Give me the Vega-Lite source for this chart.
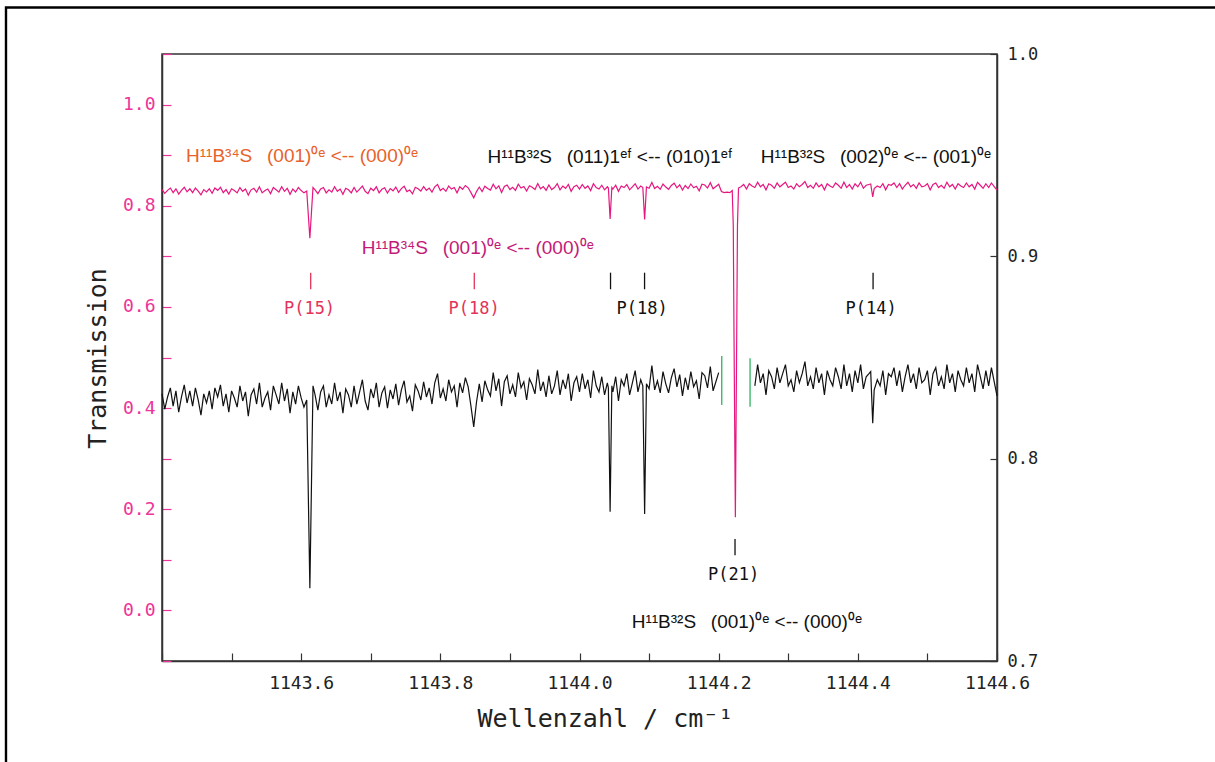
{
"$schema": "https://vega.github.io/schema/vega-lite/v6.json",
"width": 835, "height": 607,
"autosize": {"type": "none"},
"padding": {"left": 162, "top": 54, "right": 218, "bottom": 101},
"background": "white",
"config": {"view": {"stroke": "#333333", "strokeWidth": 1.5}, "axis": {"grid": false}},
"datasets": {
"spec": [
{"w":1143.400,"t":0.832},{"w":1143.404,"t":0.8245},{"w":1143.408,"t":0.8305},{"w":1143.412,"t":0.835},{"w":1143.416,"t":0.826},{"w":1143.420,"t":0.8335},{"w":1143.424,"t":0.823},{"w":1143.428,"t":0.8305},{"w":1143.432,"t":0.8365},{"w":1143.436,"t":0.8275},
{"w":1143.440,"t":0.8335},{"w":1143.444,"t":0.826},{"w":1143.448,"t":0.835},{"w":1143.452,"t":0.829},{"w":1143.456,"t":0.8215},{"w":1143.460,"t":0.832},{"w":1143.464,"t":0.8275},{"w":1143.468,"t":0.8335},{"w":1143.472,"t":0.8245},{"w":1143.476,"t":0.835},
{"w":1143.480,"t":0.8305},{"w":1143.484,"t":0.8365},{"w":1143.488,"t":0.826},{"w":1143.492,"t":0.832},{"w":1143.496,"t":0.823},{"w":1143.500,"t":0.8335},{"w":1143.504,"t":0.830},{"w":1143.508,"t":0.8255},{"w":1143.512,"t":0.836},{"w":1143.516,"t":0.8285},
{"w":1143.520,"t":0.833},{"w":1143.524,"t":0.821},{"w":1143.528,"t":0.8315},{"w":1143.532,"t":0.8345},{"w":1143.536,"t":0.827},{"w":1143.540,"t":0.8375},{"w":1143.544,"t":0.8255},{"w":1143.548,"t":0.830},{"w":1143.552,"t":0.833},{"w":1143.556,"t":0.824},
{"w":1143.560,"t":0.836},{"w":1143.564,"t":0.8315},{"w":1143.568,"t":0.827},{"w":1143.572,"t":0.8375},{"w":1143.576,"t":0.8285},{"w":1143.580,"t":0.8345},{"w":1143.584,"t":0.8225},{"w":1143.588,"t":0.833},{"w":1143.592,"t":0.827},{"w":1143.596,"t":0.836},
{"w":1143.600,"t":0.830},{"w":1143.604,"t":0.8255},{"w":1143.608,"t":0.829},{"w":1143.6125,"t":0.736},{"w":1143.617,"t":0.836},{"w":1143.620,"t":0.8315},{"w":1143.624,"t":0.824},{"w":1143.628,"t":0.833},{"w":1143.632,"t":0.836},{"w":1143.636,"t":0.8255},
{"w":1143.640,"t":0.8315},{"w":1143.644,"t":0.827},{"w":1143.648,"t":0.8375},{"w":1143.652,"t":0.8285},{"w":1143.656,"t":0.833},{"w":1143.660,"t":0.8225},{"w":1143.664,"t":0.8345},{"w":1143.668,"t":0.8315},{"w":1143.672,"t":0.8255},{"w":1143.676,"t":0.836},
{"w":1143.680,"t":0.827},{"w":1143.684,"t":0.833},{"w":1143.688,"t":0.839},{"w":1143.692,"t":0.8285},{"w":1143.696,"t":0.824},{"w":1143.700,"t":0.8345},{"w":1143.704,"t":0.830},{"w":1143.708,"t":0.8375},{"w":1143.712,"t":0.8255},{"w":1143.716,"t":0.8325},
{"w":1143.720,"t":0.8355},{"w":1143.724,"t":0.825},{"w":1143.728,"t":0.834},{"w":1143.732,"t":0.8295},{"w":1143.736,"t":0.837},{"w":1143.740,"t":0.8265},{"w":1143.744,"t":0.834},{"w":1143.748,"t":0.8385},{"w":1143.752,"t":0.828},{"w":1143.756,"t":0.831},
{"w":1143.760,"t":0.8235},{"w":1143.764,"t":0.8365},{"w":1143.768,"t":0.8335},{"w":1143.772,"t":0.829},{"w":1143.776,"t":0.838},{"w":1143.780,"t":0.8305},{"w":1143.784,"t":0.835},{"w":1143.788,"t":0.827},{"w":1143.792,"t":0.8375},{"w":1143.796,"t":0.842},
{"w":1143.800,"t":0.830},{"w":1143.804,"t":0.8345},{"w":1143.808,"t":0.8285},{"w":1143.812,"t":0.839},{"w":1143.816,"t":0.833},{"w":1143.820,"t":0.836},{"w":1143.824,"t":0.8255},{"w":1143.828,"t":0.8375},{"w":1143.832,"t":0.8325},{"w":1143.836,"t":0.840},
{"w":1143.840,"t":0.8355},{"w":1143.844,"t":0.826},{"w":1143.848,"t":0.8157},{"w":1143.852,"t":0.828},{"w":1143.856,"t":0.837},{"w":1143.860,"t":0.828},{"w":1143.864,"t":0.8385},{"w":1143.868,"t":0.834},{"w":1143.872,"t":0.831},{"w":1143.876,"t":0.8425},
{"w":1143.880,"t":0.8335},{"w":1143.884,"t":0.8395},{"w":1143.888,"t":0.826},{"w":1143.892,"t":0.838},{"w":1143.896,"t":0.841},{"w":1143.900,"t":0.832},{"w":1143.904,"t":0.8365},{"w":1143.908,"t":0.8305},{"w":1143.912,"t":0.8425},{"w":1143.916,"t":0.835},
{"w":1143.920,"t":0.838},{"w":1143.924,"t":0.829},{"w":1143.928,"t":0.8395},{"w":1143.932,"t":0.8365},{"w":1143.936,"t":0.832},{"w":1143.940,"t":0.844},{"w":1143.944,"t":0.8335},{"w":1143.948,"t":0.838},{"w":1143.952,"t":0.8305},{"w":1143.956,"t":0.841},
{"w":1143.960,"t":0.832},{"w":1143.964,"t":0.836},{"w":1143.968,"t":0.8435},{"w":1143.972,"t":0.8315},{"w":1143.976,"t":0.839},{"w":1143.980,"t":0.8345},{"w":1143.984,"t":0.842},{"w":1143.988,"t":0.8285},{"w":1143.992,"t":0.8375},{"w":1143.996,"t":0.8405},
{"w":1144.000,"t":0.833},{"w":1144.004,"t":0.842},{"w":1144.008,"t":0.8345},{"w":1144.012,"t":0.839},{"w":1144.016,"t":0.830},{"w":1144.020,"t":0.8435},{"w":1144.024,"t":0.836},{"w":1144.028,"t":0.833},{"w":1144.032,"t":0.8405},{"w":1144.036,"t":0.8315},
{"w":1144.040,"t":0.8375},{"w":1144.0415,"t":0.835},{"w":1144.044,"t":0.7738},{"w":1144.0465,"t":0.836},{"w":1144.048,"t":0.833},{"w":1144.052,"t":0.8405},{"w":1144.056,"t":0.8285},{"w":1144.060,"t":0.839},{"w":1144.064,"t":0.836},{"w":1144.068,"t":0.842},
{"w":1144.072,"t":0.8315},{"w":1144.076,"t":0.8375},{"w":1144.080,"t":0.8435},{"w":1144.084,"t":0.833},{"w":1144.088,"t":0.839},{"w":1144.091,"t":0.836},{"w":1144.0936,"t":0.7727},{"w":1144.0962,"t":0.837},{"w":1144.100,"t":0.8345},{"w":1144.104,"t":0.846},
{"w":1144.108,"t":0.834},{"w":1144.112,"t":0.8385},{"w":1144.116,"t":0.8325},{"w":1144.120,"t":0.843},{"w":1144.124,"t":0.837},{"w":1144.128,"t":0.8325},{"w":1144.132,"t":0.840},{"w":1144.136,"t":0.8445},{"w":1144.140,"t":0.8355},{"w":1144.144,"t":0.8415},
{"w":1144.148,"t":0.831},{"w":1144.152,"t":0.840},{"w":1144.156,"t":0.834},{"w":1144.160,"t":0.843},{"w":1144.164,"t":0.8355},{"w":1144.168,"t":0.8385},{"w":1144.172,"t":0.8295},{"w":1144.176,"t":0.8425},{"w":1144.180,"t":0.841},{"w":1144.184,"t":0.835},
{"w":1144.188,"t":0.8455},{"w":1144.192,"t":0.8335},{"w":1144.196,"t":0.838},{"w":1144.200,"t":0.8425},{"w":1144.204,"t":0.828},{"w":1144.208,"t":0.826},{"w":1144.212,"t":0.827},{"w":1144.216,"t":0.826},{"w":1144.2195,"t":0.830},{"w":1144.221,"t":0.76},
{"w":1144.2221,"t":0.535},{"w":1144.224,"t":0.184},{"w":1144.2259,"t":0.535},{"w":1144.227,"t":0.76},{"w":1144.2285,"t":0.835},{"w":1144.232,"t":0.8375},{"w":1144.236,"t":0.842},{"w":1144.240,"t":0.833},{"w":1144.244,"t":0.8435},{"w":1144.248,"t":0.839},
{"w":1144.252,"t":0.836},{"w":1144.256,"t":0.8465},{"w":1144.260,"t":0.8375},{"w":1144.264,"t":0.842},{"w":1144.268,"t":0.8315},{"w":1144.272,"t":0.8435},{"w":1144.276,"t":0.8405},{"w":1144.280,"t":0.8345},{"w":1144.284,"t":0.845},{"w":1144.288,"t":0.8375},
{"w":1144.292,"t":0.842},{"w":1144.296,"t":0.8465},{"w":1144.300,"t":0.836},{"w":1144.304,"t":0.839},{"w":1144.308,"t":0.833},{"w":1144.312,"t":0.8435},{"w":1144.316,"t":0.8375},{"w":1144.320,"t":0.842},{"w":1144.324,"t":0.848},{"w":1144.328,"t":0.836},
{"w":1144.332,"t":0.8405},{"w":1144.336,"t":0.8345},{"w":1144.340,"t":0.845},{"w":1144.344,"t":0.8375},{"w":1144.348,"t":0.842},{"w":1144.352,"t":0.8315},{"w":1144.356,"t":0.8435},{"w":1144.360,"t":0.839},{"w":1144.364,"t":0.836},{"w":1144.368,"t":0.845},
{"w":1144.372,"t":0.8405},{"w":1144.376,"t":0.8345},{"w":1144.380,"t":0.8465},{"w":1144.384,"t":0.836},{"w":1144.388,"t":0.842},{"w":1144.392,"t":0.833},{"w":1144.396,"t":0.8435},{"w":1144.400,"t":0.8375},{"w":1144.404,"t":0.8465},{"w":1144.408,"t":0.8345},
{"w":1144.412,"t":0.8405},{"w":1144.416,"t":0.842},{"w":1144.4185,"t":0.843},{"w":1144.4214,"t":0.8175},{"w":1144.4235,"t":0.834},{"w":1144.428,"t":0.839},{"w":1144.432,"t":0.836},{"w":1144.436,"t":0.8435},{"w":1144.440,"t":0.8315},{"w":1144.444,"t":0.842},
{"w":1144.448,"t":0.8405},{"w":1144.452,"t":0.845},{"w":1144.456,"t":0.836},{"w":1144.460,"t":0.8435},{"w":1144.464,"t":0.833},{"w":1144.468,"t":0.8405},{"w":1144.472,"t":0.8465},{"w":1144.476,"t":0.8375},{"w":1144.480,"t":0.842},{"w":1144.484,"t":0.8345},
{"w":1144.488,"t":0.845},{"w":1144.492,"t":0.8375},{"w":1144.496,"t":0.839},{"w":1144.500,"t":0.8435},{"w":1144.504,"t":0.8315},{"w":1144.508,"t":0.842},{"w":1144.512,"t":0.845},{"w":1144.516,"t":0.836},{"w":1144.520,"t":0.8405},{"w":1144.524,"t":0.8345},
{"w":1144.528,"t":0.8465},{"w":1144.532,"t":0.8375},{"w":1144.536,"t":0.842},{"w":1144.540,"t":0.833},{"w":1144.544,"t":0.8435},{"w":1144.548,"t":0.839},{"w":1144.552,"t":0.836},{"w":1144.556,"t":0.845},{"w":1144.560,"t":0.8375},{"w":1144.564,"t":0.842},
{"w":1144.568,"t":0.833},{"w":1144.572,"t":0.8465},{"w":1144.576,"t":0.8405},{"w":1144.580,"t":0.8345},{"w":1144.584,"t":0.8435},{"w":1144.588,"t":0.836},{"w":1144.592,"t":0.845},{"w":1144.596,"t":0.838},{"w":1144.600,"t":0.831}
],
"species": [
{"w":1143.4345,"t":0.886,"label":"H¹¹B³⁴S \u2002(001)⁰ᵉ <-- (000)⁰ᵉ","kind":"o"},
{"w":1143.8678,"t":0.885,"label":"H¹¹B³²S \u2002(011)1ᵉᶠ <-- (010)1ᵉᶠ","kind":"k"},
{"w":1144.2605,"t":0.885,"label":"H¹¹B³²S \u2002(002)⁰ᵉ <-- (001)⁰ᵉ","kind":"k"},
{"w":1143.687,"t":0.7046,"label":"H¹¹B³⁴S \u2002(001)⁰ᵉ <-- (000)⁰ᵉ","kind":"m"},
{"w":1144.075,"t":-0.0348,"label":"H¹¹B³²S \u2002(001)⁰ᵉ <-- (000)⁰ᵉ","kind":"k"}
],
"plabels": [
{"w":1143.612,"t":0.5862,"label":"P(15)","kind":"r"},
{"w":1143.8485,"t":0.5862,"label":"P(18)","kind":"r"},
{"w":1144.0899,"t":0.5862,"label":"P(18)","kind":"k"},
{"w":1144.419,"t":0.5862,"label":"P(14)","kind":"k"},
{"w":1144.2214,"t":0.0601,"label":"P(21)","kind":"k"}
],
"pticks": [
{"w":1143.6137,"t":0.6677,"t2":0.6349,"kind":"r"},
{"w":1143.8488,"t":0.6677,"t2":0.6349,"kind":"r"},
{"w":1144.0446,"t":0.6677,"t2":0.6349,"kind":"k"},
{"w":1144.0935,"t":0.6677,"t2":0.6349,"kind":"k"},
{"w":1144.4219,"t":0.6677,"t2":0.6349,"kind":"k"},
{"w":1144.2235,"t":0.1412,"t2":0.1090,"kind":"k"}
],
"green": [
{"w":1144.2044,"t":0.8507,"t2":0.8265},
{"w":1144.2451,"t":0.8496,"t2":0.8257}
],
"frame": [
{"w":1143.1758,"w2":1146.5,"t":1.1919,"t2":-0.6}
]
},
"encoding": {
"x": {"field":"w","type":"quantitative",
  "scale":{"domain":[1143.4,1144.6],"nice":false,"zero":false},
  "axis":{"values":[1143.4,1143.5,1143.6,1143.7,1143.8,1143.9,1144,1144.1,1144.2,1144.3,1144.4,1144.5,1144.6],
    "labelExpr":"(round(datum.value*10) % 2 == 0 && datum.value > 1143.5) ? format(datum.value, '.1f') : ''",
    "tickSize":-8,"tickColor":"#333333","tickWidth":1.2,"domainColor":"#333333","domainWidth":1.5,
    "labelFont":"DejaVu Sans Mono","labelFontSize":18,"labelColor":"#222222","labelPadding":21,
    "labelFlush":false,"labelOverlap":false,"labelBound":false,
    "title":"Wellenzahl / cm⁻¹","titleFont":"DejaVu Sans Mono","titleFontSize":25,"titleFontWeight":"normal","titleColor":"#222222",
    "titleX":315,"titleY":65,"titleAlign":"left","titleBaseline":"alphabetic"}}
},
"layer": [
{
"encoding": {
  "y": {"field":"t","type":"quantitative",
    "scale":{"domain":[-0.1,1.1],"nice":false,"zero":false},
    "axis":{"orient":"left","values":[-0.1,0,0.1,0.2,0.3,0.4,0.5,0.6,0.7,0.8,0.9,1,1.1],
      "labelExpr":"round(datum.value*10) % 2 == 0 ? format(datum.value, '.1f') : ''",
      "tickSize":-9,"tickColor":"#ee3399","tickWidth":1.2,"domainColor":"#333333","domainWidth":1.5,
      "labelFont":"DejaVu Sans Mono","labelFontSize":18,"labelColor":"#ee3399","labelPadding":16,
      "labelOverlap":false,"labelBound":false,"labelFlush":false,
      "title":"Transmission","titleFont":"DejaVu Sans Mono","titleFontSize":25,"titleFontWeight":"normal","titleColor":"#222222",
      "titleAngle":270,"titleX":-57,"titleY":304,"titleAlign":"center","titleBaseline":"alphabetic"}}
},
"layer": [
  {"data":{"name":"frame"},
   "mark":{"type":"rect","filled":false,"color":"#000000","strokeWidth":2.4,"clip":false},
   "encoding":{"x2":{"field":"w2"},"y2":{"field":"t2"}}},
  {"data":{"name":"spec"},
   "mark":{"type":"line","color":"#e6177f","strokeWidth":1.2},
   "encoding":{}},
  {"data":{"name":"pticks"},
   "mark":{"type":"rule","strokeWidth":1.3},
   "encoding":{"y2":{"field":"t2"},
     "color":{"field":"kind","type":"nominal","scale":{"domain":["o","m","k","r"],"range":["#e8622a","#c41a78","#111111","#e3335a"]},"legend":null}}},
  {"data":{"name":"plabels"},
   "mark":{"type":"text","font":"DejaVu Sans Mono","fontSize":17,"align":"center","baseline":"alphabetic"},
   "encoding":{"text":{"field":"label"},
     "color":{"field":"kind","type":"nominal","scale":{"domain":["o","m","k","r"],"range":["#e8622a","#c41a78","#111111","#e3335a"]},"legend":null}}},
  {"data":{"name":"species"},
   "mark":{"type":"text","font":"Liberation Sans Narrow, Liberation Sans, sans-serif","fontSize":19,"align":"left","baseline":"alphabetic"},
   "encoding":{"text":{"field":"label"},
     "color":{"field":"kind","type":"nominal","scale":{"domain":["o","m","k","r"],"range":["#e8622a","#c41a78","#111111","#e3335a"]},"legend":null}}}
]
},
{
"encoding": {
  "y": {"field":"t","type":"quantitative",
    "scale":{"domain":[0.7,1.0],"nice":false,"zero":false},
    "axis":{"orient":"right","values":[0.7,0.8,0.9,1.0],"format":".1f",
      "tickSize":-7,"tickColor":"#333333","tickWidth":1.2,"domainColor":"#333333","domainWidth":1.5,
      "labelFont":"DejaVu Sans Mono","labelFontSize":17,"labelColor":"#222222","labelPadding":17,
      "labelOverlap":false,"labelBound":false,"labelFlush":false,"title":null}}
},
"layer": [
  {"data":{"name":"spec"},
   "transform":[{"filter":"datum.w < 1144.201"}],
   "mark":{"type":"line","color":"#111111","strokeWidth":1.2},
   "encoding":{}},
  {"data":{"name":"spec"},
   "transform":[{"filter":"datum.w > 1144.249"}],
   "mark":{"type":"line","color":"#111111","strokeWidth":1.2},
   "encoding":{}},
  {"data":{"name":"green"},
   "mark":{"type":"rule","color":"#3cba6a","strokeWidth":1.4},
   "encoding":{"y2":{"field":"t2"}}}
]
}
],
"resolve": {"scale": {"y": "independent"}, "axis": {"y": "independent"}}
}
